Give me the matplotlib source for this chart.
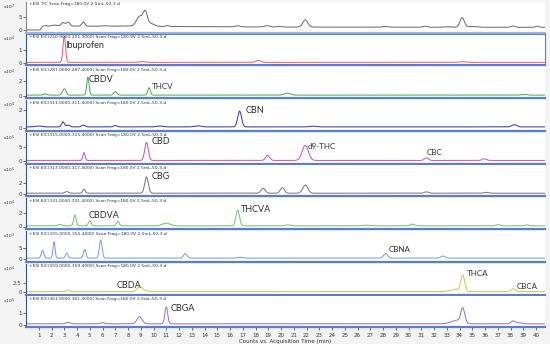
import numpy as np
import matplotlib.pyplot as plt

# header text of each trace
headers = [
    "+ESI TIC Scan Frag=180.0V 2.5mL-50-3.d",
    "+ESI EIC(250.9000-251.3000) Scan Frag=180.0V 2.5mL-50-3.d",
    "+ESI EIC(287.0000-287.4000) Scan Frag=180.0V 2.5mL-50-3.d",
    "+ESI EIC(311.0000-311.4000) Scan Frag=180.0V 2.5mL-50-3.d",
    "+ESI EIC(315.0000-315.4000) Scan Frag=180.0V 2.5mL-50-3.d",
    "+ESI EIC(317.0000-317.4000) Scan Frag=180.0V 2.5mL-50-3.d",
    "+ESI EIC(331.0000-331.4000) Scan Frag=180.0V 2.5mL-50-3.d",
    "+ESI EIC(355.0000-355.4000) Scan Frag=180.0V 2.5mL-50-3.d",
    "+ESI EIC(359.0000-359.4000) Scan Frag=180.0V 2.5mL-50-3.d",
    "+ESI EIC(361.0000-361.4000) Scan Frag=180.0V 2.5mL-50-3.d",
]
exponents = [7, 4, 4, 4, 5, 5, 4, 3, 4, 5]
yticks = [[0, 5], [0, 1], [0, 2], [0, 2], [0, 5], [0, 2], [0, 2], [0, 5], [0, 2.5], [0, 1]]
ytick_labels = [["0", "5"], ["0", "1"], ["0", "2"], ["0", "2"], ["0", "5"], ["0", "2"],
                ["0", "2"], ["0", "5"], ["0", "2.5"], ["0", "1"]]
baselines = [0.0, 0.03, 0.05, 0.15, 0.2, 0.1, 0.1, 0.5, 0.1, 0.08]

# TIC drift points (min, level)
tic_drift_t = [0, 1.1, 1.3, 2.4, 6.0, 8.0, 12.0, 20.0, 40.7]
tic_drift_y = [0, 0, 1.3, 1.5, 1.4, 1.5, 1.3, 1.1, 1.0]

# peak tables: (retention time, height, width)
peaks = [
    [(1.5, 0.3, 0.15), (2.2, 0.4, 0.2), (2.9, 1.3, 0.14), (3.3, 1.5, 0.14), (4.5, 1.6, 0.12),
     (6.1, 0.2, 0.25), (8.9, 3.6, 0.24), (9.35, 5.1, 0.17), (9.8, 1.0, 0.25), (11.1, 0.3, 0.14),
     (16.6, 0.4, 0.2), (18.9, 0.5, 0.2), (19.9, 0.3, 0.16), (21.9, 2.7, 0.2),
     (28.2, 0.3, 0.2), (31.3, 0.4, 0.16), (33.0, 0.2, 0.25), (34.2, 3.6, 0.17),
     (35.0, 0.3, 0.35), (38.2, 0.5, 0.16), (40.1, 0.4, 0.14)],
    [(3.0, 2.05, 0.1), (9.1, 0.06, 0.2), (18.2, 0.15, 0.2), (34.2, 0.05, 0.25)],
    [(1.5, 0.15, 0.14), (3.0, 0.85, 0.13), (4.85, 2.4, 0.09), (7.0, 0.45, 0.13),
     (9.65, 1.0, 0.1), (20.5, 0.25, 0.25), (39.1, 0.1, 0.2)],
    [(1.0, 0.1, 0.25), (2.9, 0.55, 0.11), (3.3, 0.2, 0.14), (4.5, 0.2, 0.14), (7.0, 0.15, 0.14),
     (10.5, 0.1, 0.25), (13.5, 0.12, 0.25), (16.75, 1.75, 0.15), (22.5, 0.08, 0.25),
     (38.3, 0.25, 0.2)],
    [(4.55, 2.8, 0.09), (9.45, 6.4, 0.14), (18.95, 1.8, 0.16), (21.9, 5.4, 0.24),
     (31.4, 0.9, 0.16), (35.95, 0.6, 0.16)],
    [(3.2, 0.3, 0.14), (4.55, 0.7, 0.1), (9.45, 3.0, 0.14), (18.6, 0.9, 0.16),
     (20.1, 1.0, 0.16), (21.9, 1.5, 0.2), (31.4, 0.25, 0.16), (36.1, 0.15, 0.2)],
    [(2.65, 0.2, 0.14), (3.83, 1.6, 0.1), (5.0, 0.75, 0.1), (7.2, 0.65, 0.11),
     (11.0, 0.4, 0.3), (16.6, 2.35, 0.14), (20.5, 0.15, 0.2), (26.7, 0.1, 0.25),
     (30.3, 0.25, 0.16), (37.0, 0.2, 0.14), (39.3, 0.15, 0.14)],
    [(1.3, 3.6, 0.1), (2.2, 7.4, 0.08), (3.2, 2.4, 0.1), (4.6, 4.0, 0.1),
     (5.86, 8.1, 0.11), (12.5, 2.1, 0.14), (16.8, 0.4, 0.2), (28.2, 2.1, 0.16),
     (32.7, 1.0, 0.16)],
    [(3.3, 0.5, 0.11), (8.9, 1.3, 0.2), (9.3, 0.3, 0.25), (33.7, 0.6, 0.4),
     (34.25, 4.4, 0.15), (38.2, 0.8, 0.16)],
    [(3.3, 0.12, 0.16), (6.0, 0.1, 0.16), (8.9, 0.6, 0.2), (11.0, 1.45, 0.11),
     (33.8, 0.3, 0.45), (34.25, 1.2, 0.15), (38.2, 0.25, 0.16), (38.7, 0.08, 0.2)],
]

# compound labels: (panel, name, time, y, size)
compound_labels = [
    (1, "Ibuprofen", 3.1, 1.35, 6.5),
    (2, "CBDV", 4.95, 2.1, 6.5),
    (2, "THCV", 9.85, 1.2, 5.8),
    (3, "CBN", 17.2, 2.0, 6.5),
    (4, "CBD", 9.85, 6.9, 6.5),
    (4, "d9-THC", 22.1, 5.25, 5.8),
    (4, "CBC", 31.4, 2.9, 5.8),
    (5, "CBG", 9.85, 3.2, 6.5),
    (6, "CBDVA", 4.95, 1.6, 6.5),
    (6, "THCVA", 16.85, 2.6, 6.5),
    (7, "CBNA", 28.4, 4.3, 5.8),
    (8, "CBDA", 7.1, 1.9, 6.5),
    (8, "THCA", 34.6, 5.0, 5.8),
    (8, "CBCA", 38.5, 1.4, 5.8),
    (9, "CBGA", 11.35, 1.4, 6.5),
]

colors = ["#707070", "#e8607a", "#4cb050", "#3c3ca8", "#c058c8",
          "#857585", "#74c474", "#7e9cf2", "#c8cc58", "#9d72dc"]
ytops = [10.7, 2.24, 3.8, 3.17, 10.2, 5.2, 4.27, 12.95, 7.9, 2.44]

W, H = 550, 344
fig = plt.figure(figsize=(5.5, 3.44), dpi=100, facecolor="#f3f3f3")
t = np.linspace(0, 40.7, 3000)

for k in range(10):
    top = 1.5 + 32.75 * k
    ax = fig.add_axes([26 / W, 1 - (top + 31) / H, 519 / W, 31 / H])
    ax.set_facecolor("white")
    y = np.full_like(t, baselines[k])
    if k == 0:
        y = y + np.interp(t, tic_drift_t, tic_drift_y)
    for rt, h, w in peaks[k]:
        y = y + h * np.exp(-0.5 * ((t - rt) / w) ** 2)
    ax.plot(t, y, color=colors[k], lw=0.75)

    ax.set_xlim(0, 40.7)
    ax.set_ylim(-ytops[k] * 2.5 / 28.5, ytops[k])
    ax.set_yticks(yticks[k])
    ax.set_yticklabels(ytick_labels[k])
    ax.tick_params(axis="y", labelsize=4, length=2, width=0.5, pad=1, colors="#333333")
    ax.set_xticks(range(1, 41))
    if k == 9:
        ax.tick_params(axis="x", labelsize=4, length=2, width=0.5, pad=2, colors="#333333")
        ax.set_xlabel("Counts vs. Acquisition Time (min)", fontsize=4, labelpad=1, color="#333333")
    else:
        ax.tick_params(axis="x", length=0, labelbottom=False)

    for s in ["top", "right"]:
        ax.spines[s].set_visible(k == 1)
        ax.spines[s].set_color("#5a7fc8")
    ax.spines["left"].set_color("#3050a0" if k > 0 else "#888888")
    ax.spines["left"].set_linewidth(0.8)
    ax.spines["bottom"].set_color("#5a7fc8" if k > 0 else "#9ab4e0")
    ax.spines["bottom"].set_linewidth(1.6)

    ax.text(0.006, 0.97, headers[k], transform=ax.transAxes, fontsize=3.2,
            va="top", ha="left", color="#333333")
    ax.text(-0.022, 0.97, r"x10$^{%d}$" % exponents[k], transform=ax.transAxes,
            fontsize=3.2, va="top", ha="right", color="#333333")

    for panel, name, lt, ly, size in compound_labels:
        if panel == k:
            ax.text(lt, ly, name, fontsize=size, family="Lato", color="#303030",
                    va="center", ha="left")

fig.savefig("out.png", dpi=100, facecolor=fig.get_facecolor())
